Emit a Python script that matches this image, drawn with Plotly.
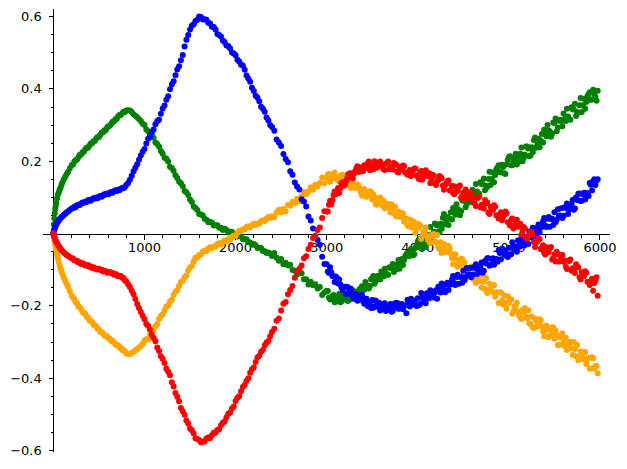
import plotly.graph_objects as go

# sample positions shared by all four series
x_vals = [
    0, 5, 10, 15, 20, 25, 30, 40, 50, 60,
    70, 80, 90, 100, 115, 130, 145, 160, 180, 200,
    215, 230, 245, 260, 275, 290, 305, 320, 335, 350,
    365, 380, 395, 410, 425, 440, 455, 470, 485, 500,
    515, 530, 545, 560, 575, 590, 605, 620, 635, 650,
    665, 680, 695, 710, 725, 740, 755, 770, 785, 800,
    820, 840, 860, 880, 900, 920, 940, 960, 980, 1000,
    1020, 1040, 1060, 1080, 1100, 1120, 1140, 1160, 1180, 1200,
    1220, 1240, 1260, 1280, 1300, 1320, 1340, 1360, 1380, 1400,
    1420, 1440, 1460, 1480, 1500, 1520, 1540, 1560, 1580, 1600,
    1620, 1640, 1660, 1680, 1700, 1720, 1740, 1760, 1780, 1800,
    1820, 1840, 1860, 1880, 1900, 1920, 1940, 1960, 1980, 2000,
    2020, 2040, 2060, 2080, 2100, 2120, 2140, 2160, 2180, 2200,
    2220, 2240, 2260, 2280, 2300, 2320, 2340, 2360, 2380, 2400,
    2425, 2450, 2475, 2500, 2525, 2550, 2575, 2600, 2625, 2650,
    2675, 2700, 2725, 2750, 2775, 2800, 2825, 2850, 2875, 2900,
    2925, 2950, 2975, 3000, 3025, 3050, 3075, 3100, 3125, 3150,
    3175, 3200, 3225, 3250, 3275, 3300, 3325, 3350, 3375, 3400,
    3425, 3450, 3475, 3500, 3525, 3550, 3575, 3600, 3625, 3650,
    3675, 3700, 3725, 3750, 3775, 3800, 3825, 3850, 3875, 3900,
    3925, 3950, 3975, 4000, 4025, 4050, 4075, 4100, 4125, 4150,
    4175, 4200, 4225, 4250, 4275, 4300, 4325, 4350, 4375, 4400,
    4425, 4450, 4475, 4500, 4525, 4550, 4575, 4600, 4625, 4650,
    4675, 4700, 4725, 4750, 4775, 4800, 4825, 4850, 4875, 4900,
    4925, 4950, 4975, 5000, 5025, 5050, 5075, 5100, 5125, 5150,
    5175, 5200, 5225, 5250, 5275, 5300, 5325, 5350, 5375, 5400,
    5425, 5450, 5475, 5500, 5525, 5550, 5575, 5600, 5625, 5650,
    5675, 5700, 5725, 5750, 5775, 5800, 5825, 5850, 5875, 5900,
    5925, 5950, 5975,
]

blue = [
    0.000, 0.007, 0.011, 0.015, 0.019, 0.022, 0.024, 0.029, 0.033, 0.037,
    0.040, 0.043, 0.046, 0.048, 0.052, 0.055, 0.058, 0.061, 0.065, 0.069,
    0.070, 0.074, 0.073, 0.078, 0.080, 0.079, 0.083, 0.086, 0.085, 0.088,
    0.087, 0.092, 0.093, 0.091, 0.095, 0.098, 0.097, 0.100, 0.098, 0.102,
    0.104, 0.102, 0.106, 0.109, 0.108, 0.111, 0.109, 0.113, 0.115, 0.113,
    0.117, 0.120, 0.118, 0.121, 0.120, 0.124, 0.126, 0.125, 0.129, 0.134,
    0.140, 0.149, 0.160, 0.172, 0.182, 0.192, 0.204, 0.216, 0.226, 0.234,
    0.249, 0.262, 0.268, 0.281, 0.288, 0.302, 0.311, 0.315, 0.331, 0.346,
    0.354, 0.370, 0.380, 0.399, 0.412, 0.421, 0.438, 0.454, 0.463, 0.479,
    0.494, 0.517, 0.536, 0.549, 0.564, 0.575, 0.579, 0.588, 0.591, 0.600,
    0.599, 0.592, 0.593, 0.591, 0.583, 0.581, 0.572, 0.571, 0.564, 0.552,
    0.549, 0.545, 0.534, 0.530, 0.520, 0.519, 0.512, 0.501, 0.498, 0.493,
    0.481, 0.476, 0.467, 0.465, 0.453, 0.437, 0.429, 0.420, 0.403, 0.394,
    0.381, 0.376, 0.366, 0.351, 0.345, 0.337, 0.321, 0.313, 0.300, 0.295,
    0.284, 0.260, 0.252, 0.242, 0.220, 0.206, 0.197, 0.172, 0.163, 0.141,
    0.130, 0.122, 0.095, 0.089, 0.075, 0.047, 0.036, 0.014, -0.010, -0.018,
    -0.031, -0.064, -0.084, -0.085, -0.109, -0.107, -0.118, -0.119, -0.138, -0.141,
    -0.155, -0.147, -0.147, -0.166, -0.164, -0.180, -0.168, -0.179, -0.174, -0.187,
    -0.180, -0.200, -0.191, -0.184, -0.201, -0.200, -0.191, -0.209, -0.199, -0.214,
    -0.206, -0.195, -0.214, -0.202, -0.192, -0.207, -0.195, -0.200, -0.220, -0.189,
    -0.180, -0.194, -0.198, -0.179, -0.195, -0.177, -0.178, -0.165, -0.179, -0.170,
    -0.177, -0.157, -0.147, -0.163, -0.149, -0.162, -0.136, -0.141, -0.127, -0.137,
    -0.120, -0.139, -0.119, -0.103, -0.120, -0.113, -0.095, -0.114, -0.095, -0.112,
    -0.099, -0.080, -0.103, -0.083, -0.068, -0.087, -0.068, -0.073, -0.078, -0.054,
    -0.042, -0.058, -0.062, -0.039, -0.057, -0.035, -0.036, -0.019, -0.036, -0.026,
    -0.032, -0.008, 0.006, -0.011, 0.006, -0.007, 0.025, 0.017, 0.034, 0.022,
    0.041, 0.019, 0.041, 0.059, 0.039, 0.049, 0.070, 0.049, 0.071, 0.054,
    0.071, 0.093, 0.069, 0.093, 0.111, 0.091, 0.113, 0.107, 0.104, 0.135,
    0.145, 0.134, 0.150,
]

green = [
    0.000, 0.025, 0.042, 0.056, 0.068, 0.076, 0.084, 0.097, 0.108, 0.115,
    0.122, 0.128, 0.136, 0.142, 0.150, 0.157, 0.164, 0.170, 0.180, 0.189,
    0.191, 0.199, 0.203, 0.205, 0.211, 0.218, 0.219, 0.225, 0.226, 0.233,
    0.237, 0.237, 0.243, 0.249, 0.250, 0.255, 0.256, 0.263, 0.267, 0.267,
    0.273, 0.279, 0.280, 0.286, 0.286, 0.293, 0.297, 0.298, 0.304, 0.309,
    0.310, 0.316, 0.317, 0.324, 0.328, 0.328, 0.333, 0.337, 0.336, 0.340,
    0.341, 0.340, 0.336, 0.330, 0.326, 0.322, 0.317, 0.311, 0.304, 0.300,
    0.288, 0.283, 0.274, 0.273, 0.265, 0.252, 0.248, 0.241, 0.228, 0.221,
    0.210, 0.207, 0.199, 0.185, 0.181, 0.174, 0.161, 0.154, 0.143, 0.139,
    0.131, 0.118, 0.114, 0.107, 0.094, 0.087, 0.075, 0.071, 0.065, 0.054,
    0.053, 0.050, 0.041, 0.038, 0.031, 0.033, 0.030, 0.022, 0.023, 0.023,
    0.016, 0.016, 0.010, 0.013, 0.010, 0.003, 0.005, 0.005, -0.003, -0.003,
    -0.008, -0.006, -0.008, -0.016, -0.015, -0.016, -0.024, -0.025, -0.031, -0.029,
    -0.032, -0.040, -0.039, -0.040, -0.048, -0.049, -0.054, -0.052, -0.055, -0.062,
    -0.054, -0.067, -0.075, -0.070, -0.085, -0.081, -0.088, -0.086, -0.101, -0.103,
    -0.113, -0.109, -0.110, -0.126, -0.126, -0.141, -0.133, -0.143, -0.140, -0.152,
    -0.148, -0.170, -0.163, -0.158, -0.177, -0.178, -0.170, -0.188, -0.177, -0.190,
    -0.181, -0.169, -0.186, -0.172, -0.161, -0.175, -0.161, -0.164, -0.167, -0.147,
    -0.134, -0.144, -0.145, -0.124, -0.139, -0.119, -0.119, -0.105, -0.118, -0.109,
    -0.114, -0.095, -0.084, -0.099, -0.085, -0.097, -0.070, -0.073, -0.057, -0.063,
    -0.043, -0.060, -0.039, -0.022, -0.038, -0.029, -0.010, -0.028, -0.003, -0.012,
    0.005, 0.026, 0.005, 0.027, 0.044, 0.026, 0.046, 0.042, 0.039, 0.065,
    0.081, 0.065, 0.062, 0.091, 0.073, 0.100, 0.101, 0.121, 0.104, 0.116,
    0.110, 0.137, 0.152, 0.132, 0.151, 0.134, 0.169, 0.162, 0.182, 0.170,
    0.190, 0.167, 0.192, 0.212, 0.189, 0.200, 0.221, 0.197, 0.221, 0.200,
    0.218, 0.241, 0.214, 0.239, 0.259, 0.237, 0.262, 0.257, 0.252, 0.283,
    0.300, 0.282, 0.277, 0.306, 0.283, 0.312, 0.311, 0.332, 0.311, 0.324,
    0.315, 0.344, 0.359, 0.336, 0.355, 0.336, 0.373, 0.364, 0.385, 0.370,
    0.398, 0.378, 0.395,
]

red = [
    0.000, -0.005, -0.009, -0.012, -0.016, -0.019, -0.022, -0.027, -0.031, -0.035,
    -0.039, -0.042, -0.046, -0.048, -0.052, -0.056, -0.059, -0.061, -0.065, -0.068,
    -0.069, -0.074, -0.075, -0.075, -0.080, -0.079, -0.084, -0.082, -0.084, -0.088,
    -0.088, -0.087, -0.092, -0.091, -0.095, -0.093, -0.095, -0.099, -0.098, -0.097,
    -0.101, -0.100, -0.105, -0.103, -0.104, -0.108, -0.107, -0.106, -0.110, -0.109,
    -0.114, -0.112, -0.114, -0.118, -0.117, -0.117, -0.122, -0.123, -0.130, -0.132,
    -0.140, -0.148, -0.158, -0.168, -0.181, -0.195, -0.206, -0.217, -0.227, -0.237,
    -0.250, -0.255, -0.265, -0.280, -0.288, -0.298, -0.315, -0.325, -0.339, -0.346,
    -0.358, -0.374, -0.382, -0.392, -0.411, -0.423, -0.441, -0.451, -0.464, -0.482,
    -0.491, -0.501, -0.517, -0.525, -0.539, -0.544, -0.553, -0.566, -0.568, -0.571,
    -0.578, -0.575, -0.575, -0.567, -0.564, -0.566, -0.558, -0.551, -0.551, -0.543,
    -0.541, -0.530, -0.523, -0.520, -0.508, -0.498, -0.495, -0.484, -0.478, -0.463,
    -0.454, -0.450, -0.436, -0.424, -0.419, -0.407, -0.400, -0.385, -0.375, -0.370,
    -0.355, -0.343, -0.338, -0.327, -0.322, -0.309, -0.301, -0.297, -0.284, -0.272,
    -0.263, -0.241, -0.235, -0.213, -0.194, -0.189, -0.168, -0.156, -0.145, -0.122,
    -0.105, -0.097, -0.088, -0.068, -0.063, -0.043, -0.031, -0.012, -0.006, 0.010,
    0.017, 0.043, 0.062, 0.061, 0.080, 0.081, 0.107, 0.109, 0.126, 0.125,
    0.142, 0.135, 0.152, 0.166, 0.158, 0.166, 0.180, 0.170, 0.183, 0.173,
    0.181, 0.194, 0.175, 0.189, 0.200, 0.182, 0.194, 0.187, 0.178, 0.194,
    0.199, 0.184, 0.177, 0.190, 0.171, 0.184, 0.178, 0.186, 0.168, 0.171,
    0.159, 0.175, 0.180, 0.159, 0.168, 0.149, 0.170, 0.159, 0.167, 0.150,
    0.160, 0.134, 0.148, 0.157, 0.133, 0.134, 0.145, 0.119, 0.132, 0.109,
    0.116, 0.128, 0.099, 0.113, 0.122, 0.095, 0.107, 0.095, 0.083, 0.099,
    0.103, 0.080, 0.069, 0.084, 0.058, 0.074, 0.065, 0.074, 0.050, 0.052,
    0.037, 0.052, 0.056, 0.031, 0.038, 0.014, 0.036, 0.019, 0.027, 0.006,
    0.015, -0.015, -0.004, 0.004, -0.023, -0.024, -0.014, -0.043, -0.032, -0.058,
    -0.052, -0.040, -0.072, -0.058, -0.050, -0.077, -0.065, -0.078, -0.092, -0.075,
    -0.072, -0.096, -0.109, -0.094, -0.121, -0.107, -0.117, -0.108, -0.134, -0.132,
    -0.158, -0.130, -0.172,
]

orange = [
    0.000, -0.009, -0.017, -0.024, -0.031, -0.039, -0.046, -0.058, -0.069, -0.080,
    -0.089, -0.097, -0.105, -0.112, -0.122, -0.131, -0.139, -0.147, -0.159, -0.171,
    -0.177, -0.181, -0.190, -0.193, -0.202, -0.204, -0.209, -0.217, -0.220, -0.222,
    -0.230, -0.232, -0.240, -0.241, -0.245, -0.252, -0.254, -0.256, -0.263, -0.265,
    -0.272, -0.272, -0.276, -0.282, -0.283, -0.284, -0.290, -0.291, -0.297, -0.297,
    -0.301, -0.307, -0.308, -0.309, -0.315, -0.316, -0.322, -0.322, -0.325, -0.331,
    -0.333, -0.333, -0.330, -0.327, -0.323, -0.319, -0.315, -0.311, -0.305, -0.296,
    -0.292, -0.292, -0.280, -0.270, -0.267, -0.256, -0.250, -0.236, -0.228, -0.224,
    -0.212, -0.202, -0.199, -0.188, -0.183, -0.169, -0.161, -0.157, -0.145, -0.134,
    -0.131, -0.121, -0.116, -0.102, -0.094, -0.090, -0.077, -0.067, -0.066, -0.059,
    -0.058, -0.050, -0.047, -0.049, -0.042, -0.038, -0.040, -0.036, -0.036, -0.029,
    -0.027, -0.030, -0.024, -0.019, -0.021, -0.016, -0.017, -0.009, -0.006, -0.007,
    0.002, 0.008, 0.007, 0.012, 0.011, 0.018, 0.020, 0.017, 0.023, 0.027,
    0.024, 0.028, 0.027, 0.035, 0.037, 0.035, 0.041, 0.046, 0.043, 0.048,
    0.045, 0.058, 0.066, 0.058, 0.068, 0.062, 0.079, 0.077, 0.088, 0.084,
    0.096, 0.089, 0.103, 0.115, 0.109, 0.116, 0.128, 0.121, 0.135, 0.130,
    0.140, 0.155, 0.139, 0.154, 0.165, 0.150, 0.161, 0.155, 0.147, 0.160,
    0.163, 0.147, 0.137, 0.147, 0.127, 0.136, 0.128, 0.133, 0.114, 0.115,
    0.103, 0.114, 0.117, 0.094, 0.100, 0.080, 0.097, 0.085, 0.091, 0.074,
    0.082, 0.058, 0.069, 0.074, 0.051, 0.051, 0.057, 0.033, 0.041, 0.020,
    0.023, 0.034, 0.002, 0.015, 0.022, -0.006, 0.006, -0.007, -0.021, -0.004,
    -0.001, -0.025, -0.038, -0.024, -0.051, -0.037, -0.048, -0.041, -0.068, -0.069,
    -0.087, -0.073, -0.070, -0.101, -0.093, -0.120, -0.096, -0.114, -0.104, -0.127,
    -0.116, -0.149, -0.133, -0.123, -0.155, -0.154, -0.142, -0.175, -0.162, -0.192,
    -0.185, -0.171, -0.208, -0.192, -0.182, -0.214, -0.200, -0.216, -0.232, -0.211,
    -0.206, -0.234, -0.249, -0.229, -0.261, -0.242, -0.252, -0.240, -0.271, -0.267,
    -0.285, -0.265, -0.259, -0.291, -0.281, -0.309, -0.281, -0.299, -0.288, -0.313,
    -0.300, -0.336, -0.319, -0.308, -0.342, -0.341, -0.327, -0.361, -0.344, -0.373,
    -0.345, -0.366, -0.386,
]

# second, interleaved set of samples in the noisy tail (x >= 3000)
x_extra = [
    3012.5, 3037.5, 3062.5, 3087.5, 3112.5, 3137.5, 3162.5, 3187.5, 3212.5, 3237.5,
    3262.5, 3287.5, 3312.5, 3337.5, 3362.5, 3387.5, 3412.5, 3437.5, 3462.5, 3487.5,
    3512.5, 3537.5, 3562.5, 3587.5, 3612.5, 3637.5, 3662.5, 3687.5, 3712.5, 3737.5,
    3762.5, 3787.5, 3812.5, 3837.5, 3862.5, 3887.5, 3912.5, 3937.5, 3962.5, 3987.5,
    4012.5, 4037.5, 4062.5, 4087.5, 4112.5, 4137.5, 4162.5, 4187.5, 4212.5, 4237.5,
    4262.5, 4287.5, 4312.5, 4337.5, 4362.5, 4387.5, 4412.5, 4437.5, 4462.5, 4487.5,
    4512.5, 4537.5, 4562.5, 4587.5, 4612.5, 4637.5, 4662.5, 4687.5, 4712.5, 4737.5,
    4762.5, 4787.5, 4812.5, 4837.5, 4862.5, 4887.5, 4912.5, 4937.5, 4962.5, 4987.5,
    5012.5, 5037.5, 5062.5, 5087.5, 5112.5, 5137.5, 5162.5, 5187.5, 5212.5, 5237.5,
    5262.5, 5287.5, 5312.5, 5337.5, 5362.5, 5387.5, 5412.5, 5437.5, 5462.5, 5487.5,
    5512.5, 5537.5, 5562.5, 5587.5, 5612.5, 5637.5, 5662.5, 5687.5, 5712.5, 5737.5,
    5762.5, 5787.5, 5812.5, 5837.5, 5862.5, 5887.5, 5912.5, 5937.5, 5962.5,
]

blue_extra = [
    -0.105, -0.093, -0.117, -0.134, -0.123, -0.127, -0.149, -0.148, -0.167, -0.151,
    -0.152, -0.175, -0.168, -0.186, -0.181, -0.170, -0.194, -0.180, -0.189, -0.206,
    -0.205, -0.185, -0.203, -0.213, -0.195, -0.193, -0.208, -0.202, -0.216, -0.195,
    -0.191, -0.208, -0.196, -0.209, -0.198, -0.183, -0.202, -0.183, -0.187, -0.200,
    -0.198, -0.164, -0.184, -0.193, -0.165, -0.157, -0.175, -0.163, -0.180, -0.147,
    -0.138, -0.159, -0.141, -0.156, -0.141, -0.117, -0.142, -0.114, -0.120, -0.136,
    -0.129, -0.095, -0.113, -0.121, -0.093, -0.085, -0.103, -0.091, -0.108, -0.076,
    -0.068, -0.089, -0.071, -0.086, -0.070, -0.046, -0.071, -0.044, -0.049, -0.065,
    -0.058, -0.024, -0.042, -0.050, -0.021, -0.012, -0.029, -0.015, -0.029, 0.005,
    0.016, -0.003, 0.017, 0.003, 0.019, 0.043, 0.018, 0.046, 0.040, 0.024,
    0.031, 0.067, 0.050, 0.043, 0.073, 0.083, 0.067, 0.081, 0.066, 0.100,
    0.110, 0.090, 0.109, 0.094, 0.112, 0.140, 0.119, 0.150, 0.147,
]

green_extra = [
    -0.159, -0.182, -0.174, -0.190, -0.181, -0.167, -0.187, -0.169, -0.173, -0.186,
    -0.181, -0.157, -0.170, -0.176, -0.153, -0.146, -0.155, -0.143, -0.152, -0.126,
    -0.117, -0.132, -0.117, -0.127, -0.114, -0.097, -0.114, -0.093, -0.095, -0.106,
    -0.099, -0.073, -0.084, -0.087, -0.062, -0.053, -0.061, -0.048, -0.057, -0.032,
    -0.016, -0.041, -0.019, -0.037, -0.015, 0.018, -0.006, 0.028, 0.022, 0.004,
    0.013, 0.054, 0.034, 0.024, 0.059, 0.071, 0.052, 0.068, 0.051, 0.092,
    0.105, 0.081, 0.104, 0.087, 0.108, 0.137, 0.108, 0.142, 0.137, 0.120,
    0.129, 0.171, 0.151, 0.142, 0.178, 0.189, 0.169, 0.184, 0.165, 0.204,
    0.214, 0.189, 0.210, 0.191, 0.211, 0.238, 0.209, 0.241, 0.235, 0.216,
    0.225, 0.266, 0.247, 0.239, 0.275, 0.287, 0.269, 0.285, 0.268, 0.307,
    0.318, 0.293, 0.315, 0.297, 0.317, 0.345, 0.316, 0.349, 0.343, 0.325,
    0.334, 0.375, 0.355, 0.345, 0.380, 0.391, 0.371, 0.386, 0.367,
]

red_extra = [
    0.061, 0.091, 0.092, 0.116, 0.116, 0.112, 0.139, 0.132, 0.145, 0.164,
    0.167, 0.153, 0.172, 0.186, 0.173, 0.172, 0.189, 0.185, 0.199, 0.181,
    0.178, 0.195, 0.185, 0.199, 0.189, 0.176, 0.194, 0.178, 0.183, 0.195,
    0.191, 0.169, 0.181, 0.188, 0.169, 0.163, 0.176, 0.169, 0.180, 0.160,
    0.151, 0.173, 0.158, 0.175, 0.161, 0.139, 0.163, 0.138, 0.144, 0.159,
    0.153, 0.121, 0.138, 0.147, 0.120, 0.112, 0.130, 0.117, 0.133, 0.103,
    0.095, 0.115, 0.098, 0.114, 0.099, 0.076, 0.099, 0.073, 0.079, 0.093,
    0.086, 0.054, 0.070, 0.078, 0.051, 0.042, 0.059, 0.046, 0.061, 0.031,
    0.022, 0.042, 0.023, 0.038, 0.021, -0.003, 0.018, -0.010, -0.007, 0.005,
    -0.003, -0.037, -0.022, -0.015, -0.044, -0.054, -0.038, -0.051, -0.037, -0.068,
    -0.077, -0.057, -0.074, -0.059, -0.075, -0.098, -0.076, -0.103, -0.099, -0.085,
    -0.093, -0.127, -0.112, -0.104, -0.133, -0.142, -0.125, -0.137, -0.121,
]

orange_extra = [
    0.163, 0.143, 0.160, 0.169, 0.150, 0.145, 0.158, 0.150, 0.160, 0.135,
    0.127, 0.142, 0.127, 0.136, 0.123, 0.105, 0.123, 0.102, 0.104, 0.115,
    0.108, 0.082, 0.094, 0.100, 0.077, 0.070, 0.081, 0.071, 0.081, 0.056,
    0.047, 0.061, 0.046, 0.055, 0.041, 0.022, 0.039, 0.017, 0.018, 0.028,
    0.026, -0.015, 0.006, 0.017, -0.017, -0.027, -0.007, -0.022, -0.004, -0.043,
    -0.054, -0.029, -0.051, -0.034, -0.055, -0.085, -0.057, -0.092, -0.087, -0.070,
    -0.080, -0.121, -0.101, -0.091, -0.126, -0.137, -0.117, -0.132, -0.114, -0.153,
    -0.164, -0.139, -0.161, -0.143, -0.163, -0.192, -0.163, -0.197, -0.191, -0.173,
    -0.182, -0.222, -0.202, -0.191, -0.226, -0.236, -0.216, -0.230, -0.212, -0.250,
    -0.260, -0.235, -0.256, -0.237, -0.257, -0.284, -0.254, -0.286, -0.279, -0.260,
    -0.268, -0.308, -0.287, -0.276, -0.311, -0.322, -0.302, -0.317, -0.300, -0.339,
    -0.350, -0.326, -0.347, -0.328, -0.347, -0.373, -0.342, -0.373, -0.366,
]

x_ticks = [1000, 2000, 3000, 4000, 5000, 6000]
y_ticks = [-0.6, -0.4, -0.2, 0.2, 0.4, 0.6]
y_labels = ['\u22120.6', '\u22120.4', '\u22120.2', '0.2', '0.4', '0.6']

X_RANGE = [-114, 6110]
Y_RANGE = [-0.604, 0.621]

for name, ys in [('blue', blue), ('green', green), ('red', red), ('orange', orange)]:
    assert len(ys) == len(x_vals), (name, len(ys), len(x_vals))
for name, ys in [('blue', blue_extra), ('green', green_extra), ('red', red_extra), ('orange', orange_extra)]:
    assert len(ys) == len(x_extra), (name, len(ys), len(x_extra))

series = [
    (green, green_extra, '#008000'),
    (orange, orange_extra, '#ffa500'),
    (blue, blue_extra, '#0000ff'),
    (red, red_extra, '#ff0000'),
]

fig = go.Figure()
# drawing order: green, orange, blue, red (red ends up on top)
for ys, ys_extra, color in series:
    fig.add_trace(go.Scatter(x=x_vals + x_extra, y=ys + ys_extra, mode='markers',
                             hoverinfo='skip',
                             marker=dict(color=color, size=6, line=dict(width=0))))

axis_style = dict(showgrid=False, zeroline=False, showline=True, linecolor='black',
                  linewidth=1, ticks='outside', tickwidth=1, tickcolor='black',
                  anchor='free', layer='below traces', automargin=False,
                  tickfont=dict(family='DejaVu Sans', size=13, color='black'))

# the page body adds an 8px offset, margins compensate for it
fig.update_layout(
    width=627, height=469, margin=dict(l=35, r=25, t=1, b=25),
    plot_bgcolor='white', paper_bgcolor='white', showlegend=False,
    xaxis=dict(range=X_RANGE, position=(0 - Y_RANGE[0]) / (Y_RANGE[1] - Y_RANGE[0]),
               tickvals=x_ticks, ticktext=[str(t) for t in x_ticks], ticklen=5,
               ticklabelstandoff=-3,
               minor=dict(tick0=0, dtick=200, ticks='outside', ticklen=3, tickcolor='black'),
               **axis_style),
    yaxis=dict(range=Y_RANGE, position=(0 - X_RANGE[0]) / (X_RANGE[1] - X_RANGE[0]),
               tickvals=y_ticks, ticktext=y_labels, ticklen=4,
               ticklabelstandoff=5,
               minor=dict(tick0=0, dtick=0.05, ticks='outside', ticklen=2, tickcolor='black'),
               **axis_style),
)

fig.write_html("out.html")
